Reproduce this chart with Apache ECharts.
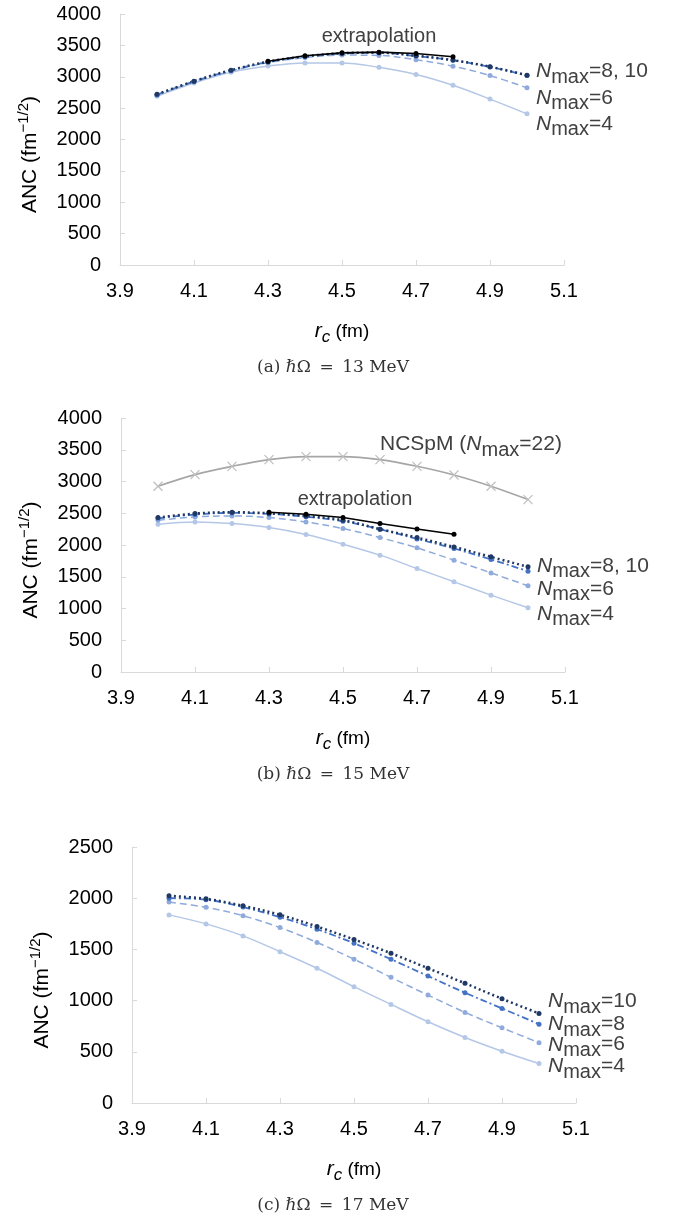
<!DOCTYPE html>
<html>
<head>
<meta charset="utf-8">
<script src="https://cdn.jsdelivr.net/npm/echarts@6/dist/echarts.min.js"></script>
<style>
html, body { margin: 0; padding: 0; background: #fff; }
#chart { width: 682px; height: 1219px; }
</style>
</head>
<body>
<div id="chart"></div>
<script>
// eixo x: rótulos de 3.9 a 5.1 (categorias a cada 0.1)
const xTicks = ['3.9', '4.0', '4.1', '4.2', '4.3', '4.4', '4.5', '4.6', '4.7', '4.8', '4.9', '5.0', '5.1'];
const rc = ['4.0', '4.1', '4.2', '4.3', '4.4', '4.5', '4.6', '4.7', '4.8', '4.9', '5.0'];
const rcExtrap = ['4.3', '4.4', '4.5', '4.6', '4.7', '4.8'];

// (a) hw = 13 MeV
const a_n4 = [2690, 2900, 3070, 3170, 3220, 3220, 3150, 3036, 2864, 2644, 2409];
const a_n6 = [2705, 2920, 3090, 3225, 3305, 3345, 3340, 3271, 3168, 3020, 2823];
const a_n8 = [2715, 2925, 3100, 3235, 3320, 3370, 3380, 3330, 3262, 3157, 3020];
const a_n10 = [2720, 2930, 3105, 3240, 3325, 3375, 3385, 3335, 3265, 3160, 3025];
const a_ext = [3246, 3334, 3381, 3392, 3371, 3318];

// (b) hw = 15 MeV
const b_ncspm = [2925, 3108, 3239, 3344, 3391, 3391, 3344, 3239, 3102, 2925, 2715];
const b_n4 = [2327, 2363, 2338, 2275, 2165, 2013, 1840, 1630, 1420, 1210, 1011];
const b_n6 = [2390, 2442, 2458, 2432, 2363, 2259, 2117, 1955, 1761, 1561, 1357];
const b_n8 = [2420, 2480, 2505, 2490, 2445, 2375, 2248, 2096, 1945, 1772, 1588];
const b_n10 = [2432, 2495, 2516, 2500, 2458, 2390, 2250, 2117, 1970, 1813, 1656];
const b_ext = [2516, 2484, 2432, 2338, 2253, 2170];

// (c) hw = 17 MeV
const c_n4 = [1837, 1749, 1632, 1478, 1316, 1136, 963, 793, 640, 506, 385];
const c_n6 = [1962, 1911, 1829, 1713, 1568, 1404, 1227, 1054, 885, 734, 589];
const c_n8 = [2000, 1986, 1913, 1815, 1697, 1560, 1404, 1240, 1077, 924, 770];
const c_n10 = [2023, 1994, 1926, 1838, 1723, 1597, 1462, 1316, 1169, 1018, 875];

const yMax = [4000, 4000, 2500];
const captions = ['(a) ℏΩ\u2002=\u200213 MeV', '(b) ℏΩ\u2002=\u200215 MeV', '(c) ℏΩ\u2002=\u200217 MeV'];

const FONT = 'Liberation Sans, Arial, sans-serif';
const LABEL = '#404040';
const AXIS = '#d9d9d9';

const looks = {
    n4: { color: '#b4c7e7', width: 1.5, type: 'solid' },
    n6: { color: '#8faadc', width: 1.5, type: [7, 4] },
    n8: { color: '#4472c4', width: 1.8, type: [7, 3, 2, 3] },
    n10: { color: '#203864', width: 2.5, type: [2, 3] }
};

const nmaxRich = {
    n: { fontFamily: FONT, fontSize: 21, fontStyle: 'italic', color: LABEL },
    s: { fontFamily: FONT, fontSize: 20, color: LABEL, padding: [12, 0, 0, 0] },
    t: { fontFamily: FONT, fontSize: 21, color: LABEL }
};

function pairs(xs, ys) {
    return xs.map((x, i) => [x, ys[i]]);
}

function nmaxSeries(gi, vals, look, labelText, dy) {
    return {
        type: 'line',
        xAxisIndex: gi,
        yAxisIndex: gi,
        data: pairs(rc, vals),
        smooth: 0.35,
        symbol: 'circle',
        symbolSize: 5,
        itemStyle: { color: look.color },
        lineStyle: { color: look.color, width: look.width, type: look.type },
        emphasis: { disabled: true },
        endLabel: {
            show: !!labelText,
            distance: 9,
            offset: [0, dy || 0],
            formatter: '{n|N}{s|max}{t|=' + labelText + '}',
            rich: nmaxRich
        }
    };
}

function extrapSeries(gi, vals, idx, offset) {
    return {
        type: 'line',
        xAxisIndex: gi,
        yAxisIndex: gi,
        data: pairs(rcExtrap, vals),
        symbol: 'circle',
        symbolSize: 5,
        itemStyle: { color: '#000' },
        lineStyle: { color: '#000', width: 1.6 },
        emphasis: { disabled: true },
        label: {
            show: true,
            position: 'top',
            distance: 3,
            offset: offset,
            fontFamily: FONT,
            fontSize: 20,
            color: LABEL,
            formatter: p => p.dataIndex === idx ? 'extrapolation' : ''
        }
    };
}

function ncspmSeries(gi, vals) {
    return {
        type: 'line',
        xAxisIndex: gi,
        yAxisIndex: gi,
        data: pairs(rc, vals),
        smooth: 0.35,
        symbol: 'path://M0,0L10,10M10,0L0,10',
        symbolSize: 9,
        itemStyle: { color: 'transparent', borderColor: '#bfbfbf', borderWidth: 1.2 },
        lineStyle: { color: '#a6a6a6', width: 1.6 },
        emphasis: { disabled: true },
        label: {
            show: true,
            position: 'top',
            align: 'left',
            distance: 2,
            offset: [0, 8],
            formatter: p => p.dataIndex === 6 ? '{t|NCSpM (}{n|N}{s|max}{t|=22)}' : '',
            rich: nmaxRich
        }
    };
}

function loadChart() {
    const chart = echarts.init(document.getElementById('chart'));

    const grids = [
        { left: 120, top: 14, width: 444, height: 251 },
        { left: 121, top: 418, width: 444, height: 254 },
        { left: 132, top: 847, width: 444, height: 256 }
    ];

    const xAxes = grids.map((g, gi) => ({
        gridIndex: gi,
        type: 'category',
        boundaryGap: false,
        data: xTicks,
        axisLine: { lineStyle: { color: AXIS, width: 1 } },
        axisTick: { inside: true, interval: 1, length: 5, lineStyle: { color: AXIS } },
        axisLabel: { interval: 1, margin: 16, fontFamily: FONT, fontSize: 20, color: '#000' },
        splitLine: { show: false },
        name: '{i|r}{c|c}{t| (fm)}',
        nameLocation: 'middle',
        nameGap: 52,
        nameTextStyle: {
            rich: {
                i: { fontFamily: FONT, fontSize: 21, fontStyle: 'italic', color: '#000' },
                c: { fontFamily: FONT, fontSize: 17, fontStyle: 'italic', color: '#000', padding: [12, 0, 0, 0] },
                t: { fontFamily: FONT, fontSize: 19, color: '#000' }
            }
        }
    }));

    const yAxes = grids.map((g, gi) => ({
        gridIndex: gi,
        type: 'value',
        min: 0,
        max: yMax[gi],
        interval: 500,
        axisLine: { show: true, lineStyle: { color: AXIS, width: 1 } },
        axisTick: { show: true, inside: true, length: 5, lineStyle: { color: AXIS } },
        axisLabel: { margin: 19, fontFamily: FONT, fontSize: 20, color: '#000', formatter: v => String(v) },
        splitLine: { show: false },
        name: '{a|ANC (fm}{p|−1/2}{a|)}',
        nameLocation: 'middle',
        nameGap: 75,
        nameTextStyle: {
            padding: [0, 30, 0, 0],
            rich: {
                a: { fontFamily: FONT, fontSize: 21, color: '#000' },
                p: { fontFamily: FONT, fontSize: 15, color: '#000', padding: [0, 0, 14, 0] }
            }
        }
    }));

    const series = [
        // (a)
        nmaxSeries(0, a_n4, looks.n4, '4', 10),
        nmaxSeries(0, a_n6, looks.n6, '6', 10),
        nmaxSeries(0, a_n8, looks.n8, ''),
        nmaxSeries(0, a_n10, looks.n10, '8, 10', -4),
        extrapSeries(0, a_ext, 3, [0, 0]),
        // (b)
        ncspmSeries(1, b_ncspm),
        nmaxSeries(1, b_n4, looks.n4, '4', 6),
        nmaxSeries(1, b_n6, looks.n6, '6', 3),
        nmaxSeries(1, b_n8, looks.n8, ''),
        nmaxSeries(1, b_n10, looks.n10, '8, 10', -1),
        extrapSeries(1, b_ext, 2, [12, -3]),
        // (c)
        nmaxSeries(2, c_n4, looks.n4, '4', 3),
        nmaxSeries(2, c_n6, looks.n6, '6', 2),
        nmaxSeries(2, c_n8, looks.n8, '8', 0),
        nmaxSeries(2, c_n10, looks.n10, '10', -12)
    ];

    const captionY = [368, 775, 1206];
    const graphic = captions.map((text, i) => ({
        type: 'text',
        x: 333,
        y: captionY[i],
        style: {
            text: text,
            align: 'center',
            verticalAlign: 'middle',
            fontFamily: 'DejaVu Serif, Liberation Serif, serif',
            fontSize: 17,
            fill: '#333'
        }
    }));

    chart.setOption({
        animation: false,
        backgroundColor: '#fff',
        grid: grids,
        xAxis: xAxes,
        yAxis: yAxes,
        series: series,
        graphic: graphic
    });

    window.addEventListener('resize', () => chart.resize());
}

document.addEventListener('DOMContentLoaded', () => {
    loadChart();
});
</script>
</body>
</html>
